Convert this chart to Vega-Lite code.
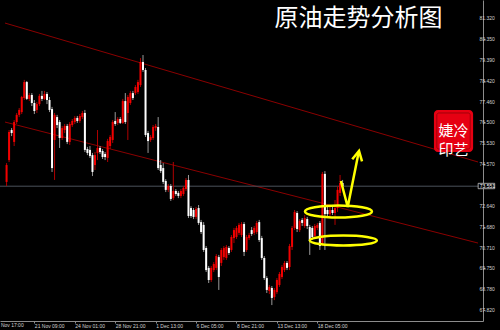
{
  "$schema": "https://vega.github.io/schema/vega-lite/v6.json",
  "width": 483,
  "height": 321,
  "autosize": {"type": "none"},
  "padding": {"left": 0, "top": 0, "right": 17, "bottom": 9},
  "background": "#000000",
  "config": {
    "view": {"stroke": null},
    "axis": {"grid": false, "domainColor": "#8c8c8c", "tickColor": "#8c8c8c", "labelColor": "#d2d2d2", "labelFont": "Liberation Sans", "labelFontSize": 5, "labelOverlap": false, "labelFlush": false, "labelBound": false}
  },
  "datasets": {
    "bars": [
      {"i":0,"o":73.75,"h":74.62,"l":73.56,"c":74.53},
      {"i":1,"o":74.76,"h":76.15,"l":74.67,"c":76.06},
      {"i":2,"o":76.15,"h":76.24,"l":75.87,"c":76.01},
      {"i":3,"o":75.60,"h":76.61,"l":75.41,"c":76.52},
      {"i":4,"o":76.52,"h":76.94,"l":76.43,"c":76.85},
      {"i":5,"o":76.85,"h":77.17,"l":76.75,"c":77.08},
      {"i":6,"o":76.98,"h":77.73,"l":76.89,"c":77.68},
      {"i":7,"o":77.63,"h":78.47,"l":77.54,"c":78.37},
      {"i":8,"o":78.37,"h":78.42,"l":77.54,"c":77.59},
      {"i":9,"o":77.59,"h":77.86,"l":77.49,"c":77.77},
      {"i":10,"o":77.77,"h":77.86,"l":77.26,"c":77.40},
      {"i":11,"o":77.40,"h":77.54,"l":76.89,"c":77.03},
      {"i":12,"o":77.08,"h":77.45,"l":76.94,"c":77.35},
      {"i":13,"o":77.35,"h":77.82,"l":77.26,"c":77.73},
      {"i":14,"o":77.73,"h":77.96,"l":77.49,"c":77.59},
      {"i":15,"o":77.59,"h":77.96,"l":77.54,"c":77.82},
      {"i":16,"o":77.82,"h":77.91,"l":77.35,"c":77.54},
      {"i":17,"o":77.54,"h":77.68,"l":76.98,"c":77.08},
      {"i":18,"o":77.12,"h":77.22,"l":74.21,"c":74.39},
      {"i":19,"o":75.69,"h":76.94,"l":73.84,"c":76.85},
      {"i":20,"o":76.75,"h":76.85,"l":76.24,"c":76.38},
      {"i":21,"o":76.52,"h":76.61,"l":75.32,"c":75.78},
      {"i":22,"o":75.78,"h":76.34,"l":75.69,"c":76.24},
      {"i":23,"o":76.15,"h":76.43,"l":76.01,"c":76.34},
      {"i":24,"o":76.34,"h":76.43,"l":75.50,"c":75.60},
      {"i":25,"o":75.60,"h":76.52,"l":75.46,"c":76.43},
      {"i":26,"o":76.38,"h":76.66,"l":76.29,"c":76.57},
      {"i":27,"o":76.52,"h":76.80,"l":76.43,"c":76.71},
      {"i":28,"o":76.71,"h":76.80,"l":76.48,"c":76.57},
      {"i":29,"o":76.57,"h":76.89,"l":76.48,"c":76.80},
      {"i":30,"o":76.75,"h":77.03,"l":76.66,"c":76.94},
      {"i":31,"o":76.94,"h":77.08,"l":75.13,"c":75.23},
      {"i":32,"o":75.27,"h":75.37,"l":74.99,"c":75.09},
      {"i":33,"o":75.23,"h":75.41,"l":74.86,"c":74.95},
      {"i":34,"o":74.99,"h":75.09,"l":74.02,"c":74.21},
      {"i":35,"o":74.53,"h":75.13,"l":74.30,"c":74.99},
      {"i":36,"o":75.09,"h":76.15,"l":74.76,"c":75.32},
      {"i":37,"o":75.32,"h":75.41,"l":75.04,"c":75.13},
      {"i":38,"o":75.18,"h":75.27,"l":74.81,"c":74.90},
      {"i":39,"o":75.04,"h":75.13,"l":74.76,"c":74.90},
      {"i":40,"o":74.86,"h":75.74,"l":74.67,"c":75.64},
      {"i":41,"o":75.41,"h":75.92,"l":75.27,"c":75.83},
      {"i":42,"o":75.69,"h":76.61,"l":75.55,"c":76.52},
      {"i":43,"o":76.57,"h":76.98,"l":76.34,"c":76.43},
      {"i":44,"o":76.48,"h":76.75,"l":76.38,"c":76.66},
      {"i":45,"o":76.66,"h":76.75,"l":76.43,"c":76.48},
      {"i":46,"o":76.48,"h":77.59,"l":76.43,"c":77.49},
      {"i":47,"o":77.49,"h":77.86,"l":76.43,"c":76.52},
      {"i":48,"o":76.94,"h":77.77,"l":75.69,"c":77.68},
      {"i":49,"o":77.40,"h":77.96,"l":77.31,"c":77.86},
      {"i":50,"o":77.86,"h":77.96,"l":77.54,"c":77.63},
      {"i":51,"o":77.86,"h":78.23,"l":77.77,"c":78.14},
      {"i":52,"o":77.91,"h":78.47,"l":77.82,"c":78.37},
      {"i":53,"o":78.23,"h":79.48,"l":78.14,"c":79.30},
      {"i":54,"o":79.30,"h":79.62,"l":78.84,"c":78.93},
      {"i":55,"o":78.93,"h":79.02,"l":75.83,"c":75.92},
      {"i":56,"o":76.01,"h":76.11,"l":75.09,"c":75.64},
      {"i":57,"o":75.69,"h":75.92,"l":75.60,"c":75.83},
      {"i":58,"o":75.78,"h":76.38,"l":75.69,"c":76.29},
      {"i":59,"o":76.24,"h":76.43,"l":76.11,"c":76.34},
      {"i":60,"o":76.29,"h":76.75,"l":74.30,"c":74.39},
      {"i":61,"o":74.53,"h":74.76,"l":74.16,"c":74.25},
      {"i":62,"o":74.39,"h":74.62,"l":73.65,"c":73.75},
      {"i":63,"o":73.79,"h":73.88,"l":73.28,"c":73.38},
      {"i":64,"o":73.38,"h":73.65,"l":73.28,"c":73.56},
      {"i":65,"o":73.56,"h":73.65,"l":72.87,"c":72.96},
      {"i":66,"o":73.00,"h":74.67,"l":72.91,"c":73.33},
      {"i":67,"o":73.33,"h":73.42,"l":73.10,"c":73.19},
      {"i":68,"o":73.24,"h":73.33,"l":73.00,"c":73.10},
      {"i":69,"o":73.10,"h":73.42,"l":73.00,"c":73.33},
      {"i":70,"o":73.19,"h":73.55,"l":73.10,"c":73.47},
      {"i":71,"o":73.42,"h":73.93,"l":73.33,"c":73.84},
      {"i":72,"o":73.84,"h":74.07,"l":72.08,"c":72.17},
      {"i":73,"o":72.54,"h":72.63,"l":72.08,"c":72.17},
      {"i":74,"o":72.45,"h":72.54,"l":72.03,"c":72.13},
      {"i":75,"o":72.13,"h":72.59,"l":72.03,"c":72.50},
      {"i":76,"o":72.54,"h":72.68,"l":71.76,"c":71.85},
      {"i":77,"o":71.89,"h":71.99,"l":71.34,"c":71.43},
      {"i":78,"o":71.76,"h":71.89,"l":70.51,"c":70.60},
      {"i":79,"o":70.69,"h":70.78,"l":69.58,"c":69.67},
      {"i":80,"o":69.77,"h":69.86,"l":69.07,"c":69.21},
      {"i":81,"o":69.21,"h":69.86,"l":69.12,"c":69.77},
      {"i":82,"o":69.67,"h":70.04,"l":69.58,"c":69.95},
      {"i":83,"o":69.77,"h":70.41,"l":69.67,"c":70.32},
      {"i":84,"o":70.27,"h":70.37,"l":68.75,"c":69.35},
      {"i":85,"o":70.00,"h":70.69,"l":69.86,"c":70.60},
      {"i":86,"o":70.27,"h":70.78,"l":70.14,"c":70.69},
      {"i":87,"o":70.23,"h":70.83,"l":70.14,"c":70.74},
      {"i":88,"o":70.69,"h":70.78,"l":70.37,"c":70.46},
      {"i":89,"o":70.60,"h":71.29,"l":70.51,"c":71.20},
      {"i":90,"o":71.15,"h":71.62,"l":70.92,"c":71.52},
      {"i":91,"o":71.20,"h":71.71,"l":71.11,"c":71.62},
      {"i":92,"o":71.39,"h":71.85,"l":71.29,"c":71.76},
      {"i":93,"o":71.29,"h":71.89,"l":71.20,"c":71.80},
      {"i":94,"o":71.80,"h":71.89,"l":70.32,"c":70.51},
      {"i":95,"o":70.60,"h":71.29,"l":70.51,"c":71.20},
      {"i":96,"o":71.15,"h":71.39,"l":71.06,"c":71.29},
      {"i":97,"o":71.52,"h":71.66,"l":71.25,"c":71.34},
      {"i":98,"o":71.39,"h":71.71,"l":71.29,"c":71.62},
      {"i":99,"o":71.43,"h":71.94,"l":71.34,"c":71.85},
      {"i":100,"o":71.89,"h":71.99,"l":70.97,"c":71.06},
      {"i":101,"o":71.15,"h":71.25,"l":70.14,"c":70.23},
      {"i":102,"o":70.23,"h":70.32,"l":69.21,"c":69.30},
      {"i":103,"o":69.30,"h":69.39,"l":68.61,"c":68.75},
      {"i":104,"o":68.70,"h":68.98,"l":68.56,"c":68.89},
      {"i":105,"o":68.84,"h":68.93,"l":68.05,"c":68.38},
      {"i":106,"o":68.42,"h":68.84,"l":68.28,"c":68.75},
      {"i":107,"o":68.65,"h":69.30,"l":68.56,"c":69.21},
      {"i":108,"o":68.98,"h":69.58,"l":68.89,"c":69.49},
      {"i":109,"o":69.35,"h":69.90,"l":69.26,"c":69.81},
      {"i":110,"o":69.67,"h":70.09,"l":69.58,"c":70.00},
      {"i":111,"o":70.00,"h":70.09,"l":69.67,"c":69.77},
      {"i":112,"o":69.81,"h":70.88,"l":69.67,"c":70.78},
      {"i":113,"o":70.74,"h":71.71,"l":70.60,"c":71.62},
      {"i":114,"o":71.62,"h":72.45,"l":71.52,"c":72.36},
      {"i":115,"o":72.31,"h":72.40,"l":71.43,"c":71.57},
      {"i":116,"o":71.52,"h":72.03,"l":71.43,"c":71.94},
      {"i":117,"o":71.99,"h":72.08,"l":71.71,"c":71.85},
      {"i":118,"o":71.71,"h":72.22,"l":71.62,"c":72.08},
      {"i":119,"o":72.03,"h":72.13,"l":71.57,"c":71.71},
      {"i":120,"o":71.66,"h":71.76,"l":70.37,"c":71.01},
      {"i":121,"o":71.62,"h":71.71,"l":71.06,"c":71.20},
      {"i":122,"o":71.25,"h":71.80,"l":71.15,"c":71.71},
      {"i":123,"o":71.62,"h":71.85,"l":71.52,"c":71.76},
      {"i":124,"o":71.85,"h":71.94,"l":70.60,"c":70.78},
      {"i":125,"o":70.88,"h":74.21,"l":70.78,"c":74.12},
      {"i":126,"o":74.12,"h":74.25,"l":70.60,"c":72.26},
      {"i":127,"o":72.45,"h":72.68,"l":72.08,"c":72.26},
      {"i":128,"o":72.26,"h":72.63,"l":72.17,"c":72.45},
      {"i":129,"o":72.45,"h":72.59,"l":72.22,"c":72.31},
      {"i":130,"o":72.31,"h":72.91,"l":71.76,"c":72.54},
      {"i":131,"o":72.54,"h":73.55,"l":72.36,"c":73.38},
      {"i":132,"o":73.24,"h":74.07,"l":73.10,"c":73.70},
      {"i":133,"o":73.70,"h":73.84,"l":73.38,"c":73.551}
    ],
    "channel": [
      {"line": "upper", "i": -0.62, "p": 81.10},
      {"line": "upper", "i": 186.6, "p": 74.67},
      {"line": "lower", "i": -0.62, "p": 76.52},
      {"line": "lower", "i": 186.6, "p": 70.92}
    ],
    "rings": [
      {"ring": "upper", "i": 131.36, "p": 72.38},
      {"ring": "lower", "i": 133.29, "p": 71.04}
    ],
    "arrow": [
      {"k": 0, "i": 132.33, "p": 73.79},
      {"k": 1, "i": 135.03, "p": 72.59},
      {"k": 2, "i": 139.3, "p": 75.09}
    ],
    "levels": [
      {"v": 81.32}, {"v": 80.35}, {"v": 79.39}, {"v": 78.42}, {"v": 77.46}, {"v": 76.5}, {"v": 75.53},
      {"v": 74.57}, {"v": 72.64}, {"v": 71.68}, {"v": 70.71}, {"v": 69.75}, {"v": 68.78}, {"v": 67.82}
    ],
    "one": [{}]
  },
  "layer": [
    {
      "data": {"name": "channel"},
      "mark": {"type": "line", "color": "#8a0000", "strokeWidth": 1, "clip": true},
      "encoding": {
        "x": {"field": "i", "type": "quantitative", "scale": {"domain": [-0.62, 186.59], "nice": false, "zero": false},
          "axis": {"title": null, "values": [11, 27, 43, 59, 75, 91, 107, 123], "tickSize": 2, "labelPadding": 0, "labelAlign": "left", "labelBaseline": "top", "labelOverlap": false, "labelFlush": false, "labelBound": false,
            "labelExpr": "datum.value == 11 ? '21 Nov 09:00' : datum.value == 27 ? '24 Nov 01:00' : datum.value == 43 ? '28 Nov 21:00' : datum.value == 59 ? '1 Dec 13:00' : datum.value == 75 ? '6 Dec 05:00' : datum.value == 91 ? '8 Dec 21:00' : datum.value == 107 ? '13 Dec 13:00' : '18 Dec 05:00'"}},
        "y": {"field": "p", "type": "quantitative", "scale": {"domain": [67.313, 82.167], "nice": false, "zero": false},
          "axis": {"title": null, "orient": "right", "values": [81.32, 80.35, 79.39, 78.42, 77.46, 76.5, 75.53, 74.57, 72.64, 71.68, 70.71, 69.75, 68.78, 67.82], "tickSize": 2, "labels": false}},
        "detail": {"field": "line"}
      }
    },
    {
      "data": {"name": "levels"},
      "mark": {"type": "text", "font": "Liberation Sans", "fontSize": 5, "color": "#d2d2d2", "align": "left", "baseline": "middle"},
      "encoding": {
        "x": {"datum": 187.2, "type": "quantitative"},
        "y": {"field": "v", "type": "quantitative", "axis": {"title": null}},
        "text": {"field": "v", "type": "quantitative", "format": ".3f"}
      }
    },
    {
      "data": {"name": "one"},
      "mark": {"type": "rule", "color": "#4a515a", "strokeWidth": 1},
      "encoding": {"y": {"datum": 73.551, "type": "quantitative"}}
    },
    {
      "data": {"name": "bars"},
      "mark": {"type": "rule", "strokeWidth": 1},
      "encoding": {
        "x": {"field": "i", "type": "quantitative", "axis": {"title": null}},
        "y": {"field": "l", "type": "quantitative", "axis": {"title": null}},
        "y2": {"field": "h"},
        "color": {"condition": {"test": "datum.c >= datum.o", "value": "#b00000"}, "value": "#9a9a9a"}
      }
    },
    {
      "data": {"name": "bars"},
      "mark": {"type": "bar", "size": 2},
      "encoding": {
        "x": {"field": "i", "type": "quantitative", "axis": {"title": null}},
        "y": {"field": "o", "type": "quantitative", "axis": {"title": null}},
        "y2": {"field": "c"},
        "color": {"condition": {"test": "datum.c >= datum.o", "value": "#f20000"}, "value": "#ffffff"}
      }
    },
    {
      "data": {"name": "rings"},
      "mark": {"type": "point", "filled": false, "stroke": "#ffff00", "strokeWidth": 2.5, "opacity": 1, "size": 4489},
      "encoding": {
        "x": {"field": "i", "type": "quantitative", "axis": {"title": null}},
        "y": {"field": "p", "type": "quantitative", "axis": {"title": null}},
        "shape": {"field": "ring", "type": "nominal", "legend": null,
          "scale": {"domain": ["upper", "lower"], "range": [
            "M1,0C1,0.0994,0.5523,0.18,0,0.18C-0.5523,0.18,-1,0.0994,-1,0C-1,-0.0994,-0.5523,-0.18,0,-0.18C0.5523,-0.18,1,-0.0994,1,0Z",
            "M1,0C1,0.0828,0.5523,0.15,0,0.15C-0.5523,0.15,-1,0.0828,-1,0C-1,-0.0828,-0.5523,-0.15,0,-0.15C0.5523,-0.15,1,-0.0828,1,0Z"]}}
      }
    },
    {
      "data": {"name": "arrow"},
      "mark": {"type": "line", "color": "#ffff00", "strokeWidth": 2.5, "strokeJoin": "miter"},
      "encoding": {
        "x": {"field": "i", "type": "quantitative", "axis": {"title": null}},
        "y": {"field": "p", "type": "quantitative", "axis": {"title": null}},
        "order": {"field": "k"}
      }
    },
    {
      "data": {"name": "one"},
      "mark": {"type": "point", "shape": "M-1,1.9L0,0L1,1.9", "filled": false, "stroke": "#ffff00", "strokeWidth": 2.5, "opacity": 1, "size": 100, "angle": 11.5},
      "encoding": {"x": {"datum": 139.5, "type": "quantitative"}, "y": {"datum": 75.18, "type": "quantitative"}}
    },
    {
      "data": {"name": "one"},
      "mark": {"type": "rect", "color": "#e60012", "cornerRadius": 4},
      "encoding": {"x": {"datum": 169.15, "type": "quantitative"}, "x2": {"datum": 184.65}, "y": {"datum": 77.077, "type": "quantitative"}, "y2": {"datum": 75.133}}
    },
    {
      "data": {"name": "one"},
      "mark": {"type": "rect", "filled": false, "stroke": "#a0000a", "strokeWidth": 1, "cornerRadius": 2},
      "encoding": {"x": {"datum": 170.3, "type": "quantitative"}, "x2": {"datum": 183.5}, "y": {"datum": 76.94, "type": "quantitative"}, "y2": {"datum": 75.27}}
    },
    {
      "data": {"name": "one"},
      "mark": {"type": "text", "text": ["婕冷", "印艺"], "lineHeight": 19, "font": "Noto Sans CJK SC", "fontSize": 15, "color": "#ffffff", "align": "center", "baseline": "middle"},
      "encoding": {"x": {"datum": 176.9, "type": "quantitative"}, "y": {"datum": 76.105, "type": "quantitative"}}
    },
    {
      "data": {"name": "one"},
      "mark": {"type": "text", "text": "原油走势分析图", "font": "Noto Sans CJK SC", "fontSize": 24, "color": "#ffffff", "align": "center", "baseline": "middle"},
      "encoding": {"x": {"datum": 139.3, "type": "quantitative"}, "y": {"datum": 81.29, "type": "quantitative"}}
    },
    {
      "data": {"name": "one"},
      "mark": {"type": "rect", "fill": "#000000", "stroke": "#c8c8c8", "strokeWidth": 0.8},
      "encoding": {"x": {"datum": 186.65, "type": "quantitative"}, "x2": {"datum": 193.2}, "y": {"datum": 73.684, "type": "quantitative"}, "y2": {"datum": 73.435}}
    },
    {
      "data": {"name": "one"},
      "mark": {"type": "text", "text": "73.551", "font": "Liberation Sans", "fontSize": 5, "color": "#ffffff", "align": "left", "baseline": "middle"},
      "encoding": {"x": {"datum": 187.3, "type": "quantitative"}, "y": {"datum": 73.551, "type": "quantitative"}}
    },
    {
      "data": {"name": "one"},
      "mark": {"type": "text", "text": "17 Nov 17:00", "font": "Liberation Sans", "fontSize": 5, "color": "#d2d2d2", "align": "left", "baseline": "top"},
      "encoding": {"x": {"datum": -5, "type": "quantitative"}, "y": {"datum": 67.22, "type": "quantitative"}}
    }
  ]
}
